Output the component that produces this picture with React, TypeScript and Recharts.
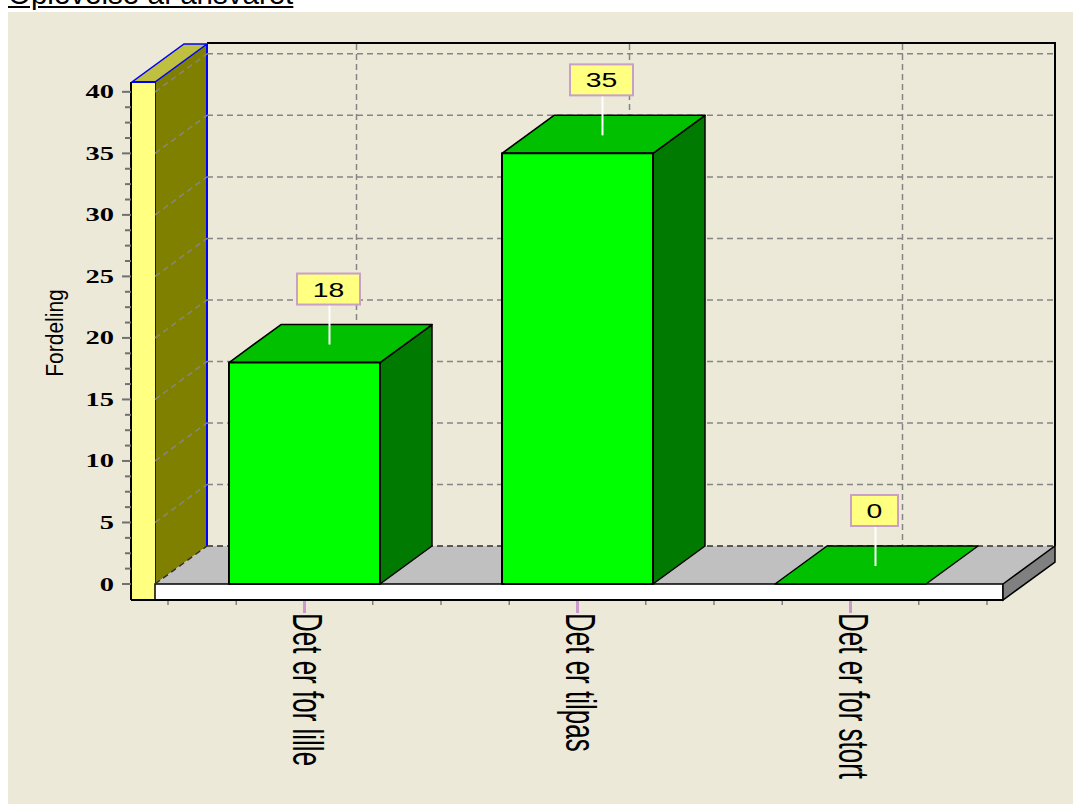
import React from 'react';
import { BarChart, Bar, XAxis, YAxis, CartesianGrid, LabelList } from 'recharts';

const categories = ['Det er for lille', 'Det er tilpas', 'Det er for stort'];
const fordeling = [18, 35, 0];
const yMajorTicks = [0, 5, 10, 15, 20, 25, 30, 35, 40];
// three minor ticks between each labelled tick
const yTicks = yMajorTicks.flatMap((t, i) => (i === yMajorTicks.length - 1 ? [t] : [t, t + 1.25, t + 2.5, t + 3.75]));

const data = categories.map((name, i) => ({ name, value: fordeling[i] }));

const W = 1073;
const H = 804;
const PLOT_L = 131;
const PLOT_T = 82;
const PLOT_R = 1003;
const PLOT_B = 600;
const Y_MIN = -1.3;
const Y_MAX = 40.8;
const K = (PLOT_B - PLOT_T) / (Y_MAX - Y_MIN);
const Y_ZERO = PLOT_B + Y_MIN * K;
const DX = 52;
const DY = 38;
const WALL = 24;
const PAD_L = 37;
const PAD_R = 16;
const BAND = (PLOT_R - PLOT_L - PAD_L - PAD_R) / categories.length;

const SANS = "'Liberation Sans', Arial, sans-serif";
const BG = '#ECE9D8';

const Frame = () => {
  const fx = PLOT_L + WALL;
  const bx = fx + DX;
  const top = PLOT_T - DY;
  const z = Y_ZERO;
  const zb = Y_ZERO - DY;
  return (
    <svg width={W} height={H} style={{ position: 'absolute', left: 0, top: 0 }}>
      <rect x={8} y={12} width={W - 8} height={H - 12} fill={BG} />
      {/* back wall border */}
      <polyline points={`${bx},${top - 1} ${PLOT_R + DX},${top - 1} ${PLOT_R + DX},${zb}`} fill="none" stroke="#000" strokeWidth={2} />
      {/* side wall */}
      <polygon points={`${fx},${PLOT_T} ${bx},${top} ${bx},${zb} ${fx},${z}`} fill="#808000" />
      <line x1={bx} y1={top} x2={bx} y2={zb} stroke="#0000ff" strokeWidth={2} />
      <line x1={fx} y1={PLOT_T} x2={fx} y2={z} stroke="#0000ff" strokeWidth={2} />
      <polygon points={`${PLOT_L + 1},${PLOT_T} ${fx},${PLOT_T} ${bx},${top} ${PLOT_L + 1 + DX},${top}`} fill="#C0C040" stroke="#0000ff" strokeWidth={1.5} />
      <rect x={PLOT_L + 1} y={PLOT_T} width={WALL - 1} height={PLOT_B - PLOT_T} fill="#FFFF80" />
      <line x1={PLOT_L + 1} y1={PLOT_T} x2={fx} y2={PLOT_T} stroke="#0000ff" strokeWidth={2} />
      {/* floor */}
      <polygon points={`${fx},${z} ${PLOT_R},${z} ${PLOT_R + DX},${zb} ${bx},${zb}`} fill="#C0C0C0" />
      <rect x={fx} y={z} width={PLOT_R - fx} height={PLOT_B - z} fill="#fff" stroke="#000" strokeWidth={1.5} />
      <polygon points={`${PLOT_R},${z} ${PLOT_R + DX},${zb} ${PLOT_R + DX},${zb + PLOT_B - z} ${PLOT_R},${PLOT_B}`} fill="#808080" stroke="#000" strokeWidth={1.5} />
    </svg>
  );
};

const isMajor = (v: number) => Math.abs(v / 5 - Math.round(v / 5)) < 0.02;

const gridH = (p: any) => {
  const y = p.y1;
  const v = Y_MIN + (PLOT_B - y) / K;
  if (!isMajor(v)) return <g key={p.key} />;
  const fx = PLOT_L + WALL;
  const by = y - DY;
  const stroke = Math.abs(v) < 0.1 ? '#303030' : '#858585';
  return (
    <g key={p.key}>
      <line x1={fx} y1={y} x2={fx + DX} y2={by} stroke={stroke} strokeWidth={1.5} strokeDasharray="6 4" />
      <line x1={fx + DX} y1={by} x2={p.x2 + DX - 2} y2={by} stroke={stroke} strokeWidth={1.5} strokeDasharray="6 4" />
    </g>
  );
};

// only the category lines, not the plot edges
const gridV = (p: any) => {
  if (p.x1 < PLOT_L + 2 || p.x1 > PLOT_R - 2) return <g key={p.key} />;
  return (
    <line key={p.key} x1={p.x1 + DX} y1={PLOT_T - DY} x2={p.x1 + DX} y2={Y_ZERO - DY} stroke="#858585" strokeWidth={1.5} strokeDasharray="6 4" />
  );
};

const YTick = ({ y, payload }: any) => {
  const v = payload.value;
  const major = isMajor(v);
  return (
    <g>
      <line x1={PLOT_L - (major ? 9 : 6)} x2={PLOT_L} y1={y} y2={y} stroke="#707070" strokeWidth={2} />
      {major && (
        <text transform={`translate(114,${y + 6.5}) scale(1.5,1)`} textAnchor="end" fontFamily="'Liberation Serif', serif" fontWeight="bold" fontSize={19} fill="#000">
          {v}
        </text>
      )}
    </g>
  );
};

const XTick = ({ x, payload, index }: any) => {
  const minors = [-BAND / 2, -BAND / 4, BAND / 4];
  if (index === categories.length - 1) minors.push(BAND / 2);
  return (
    <g>
      {minors.map((d) => (
        <line key={d} x1={x + d} x2={x + d} y1={PLOT_B + 1} y2={PLOT_B + 5} stroke="#808080" strokeWidth={1.5} />
      ))}
      <line x1={x} x2={x} y1={PLOT_B + 1} y2={PLOT_B + 13} stroke="#CC99CC" strokeWidth={3} />
      <text transform={`translate(${x - 12},${PLOT_B + 13}) rotate(90) scale(1,1.6)`} fontFamily={SANS} fontSize={26} fill="#000">
        {payload.value}
      </text>
    </g>
  );
};

const Box3D = (props: any) => {
  const { x, y, width: w, height: h } = props;
  const top = `${x},${y} ${x + w},${y} ${x + w + DX},${y - DY} ${x + DX},${y - DY}`;
  if (!h || h < 0.5) {
    return <polygon points={top} fill="#00C000" stroke="#000" strokeWidth={1.5} strokeLinejoin="round" />;
  }
  const side = `${x + w},${y} ${x + w + DX},${y - DY} ${x + w + DX},${y + h - DY} ${x + w},${y + h}`;
  return (
    <g strokeLinejoin="round">
      <polygon points={side} fill="#007A00" stroke="#000" strokeWidth={1.5} />
      <polygon points={top} fill="#00C000" stroke="#000" strokeWidth={1.5} />
      <rect x={x} y={y} width={w} height={h} fill="#00FF00" stroke="#000" strokeWidth={2} />
    </g>
  );
};

const ValueLabel = (props: any) => {
  const vb = props.viewBox && props.viewBox.width != null ? props.viewBox : props;
  const { x, y, width } = vb;
  const cx = x + width / 2 + DX / 2 - 2;
  const cy = y - DY / 2;
  const s = String(props.value);
  const bw = s.length * 16 + 31;
  const bh = 31;
  const by = cy - 39 - bh;
  return (
    <g>
      <line x1={cx + 1} x2={cx + 1} y1={by + bh} y2={cy + 1} stroke="#fff" strokeWidth={2} />
      <rect x={cx - bw / 2} y={by} width={bw} height={bh} fill="#FFFF80" stroke="#C8A0C8" strokeWidth={2} />
      <text transform={`translate(${cx},${by + 23}) scale(1.35,1)`} textAnchor="middle" fontFamily={SANS} fontSize={21} fill="#000">
        {s}
      </text>
    </g>
  );
};

const AxisTitle = () => (
  <text transform="translate(63,333) rotate(-90) scale(1,1.13)" textAnchor="middle" fontFamily={SANS} fontSize={21} fill="#000">
    Fordeling
  </text>
);

export default function App() {
  return (
    <div style={{ position: 'absolute', left: 0, top: 0, width: W, height: H, background: '#fff', overflow: 'hidden', fontFamily: SANS }}>
      <div style={{ position: 'absolute', left: 8, top: -21, fontSize: 29.5, lineHeight: '30px', textDecoration: 'underline', color: '#000', whiteSpace: 'nowrap' }}>
        Oplevelse af ansvaret
      </div>
      <Frame />
      <div style={{ position: 'absolute', left: 0, top: 0 }}>
        <BarChart width={W} height={H} data={data} margin={{ top: PLOT_T, right: W - PLOT_R, bottom: 0, left: 0 }}>
          <CartesianGrid horizontal={gridH} vertical={gridV} />
          <XAxis
            dataKey="name"
            type="category"
            interval={0}
            height={H - PLOT_B}
            padding={{ left: PAD_L, right: PAD_R }}
            axisLine={{ stroke: '#000', strokeWidth: 2 }}
            tickLine={false}
            tickSize={0}
            tick={<XTick />}
          />
          <YAxis
            type="number"
            domain={[Y_MIN, Y_MAX]}
            ticks={yTicks}
            interval={0}
            width={PLOT_L}
            axisLine={{ stroke: '#000', strokeWidth: 2 }}
            tickLine={false}
            tickSize={0}
            tick={<YTick />}
            label={{ value: 'Fordeling', content: <AxisTitle /> }}
          />
          <Bar dataKey="value" barSize={151} shape={<Box3D />} isAnimationActive={false}>
            <LabelList dataKey="value" content={<ValueLabel />} />
          </Bar>
        </BarChart>
      </div>
    </div>
  );
}
